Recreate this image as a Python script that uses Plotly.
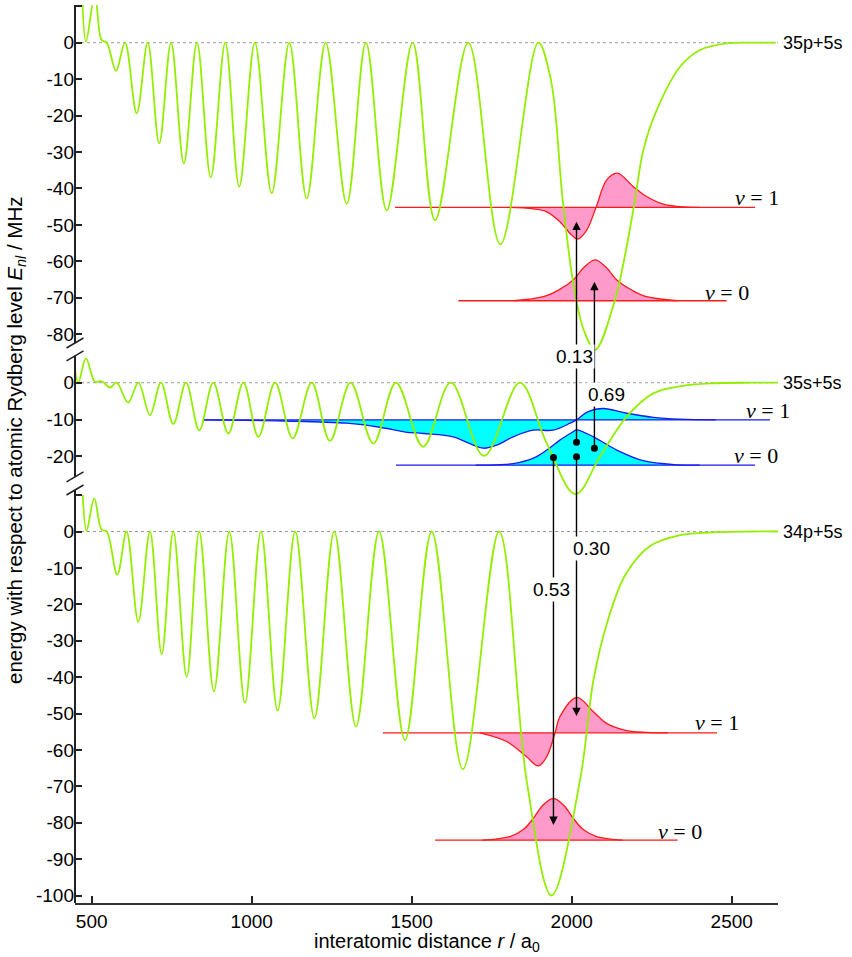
import plotly.graph_objects as go

# ---------------- potential curves: r in a0, energy in MHz ----------------
P35_R = [470, 482, 510, 531, 547, 576, 604, 640.6, 675, 711, 748, 788, 829, 872,
         917.5, 961, 1010, 1062.5, 1117.5, 1172, 1231, 1297, 1357, 1422, 1503,
         1573, 1677, 1777, 1895.6, 1935, 1972, 2005, 2038, 2073, 2135, 2192.6,
         2224, 2265.6, 2338.5, 2401, 2484, 2560, 2638]
P35_E = [14, 0.3, 13, 0.7, 0, -7.7, 0, -19.4, 0, -27.6, 0, -33.1, 0, -36.9,
         0, -39.5, 0, -41.3, 0, -42.7, 0, -44.2, 0, -46.0, 0,
         -48.7, 0, -55.3, 0, -10.2, -43.2, -66.0, -78.9, -84.3, -70.6, -45.9,
         -29.4, -18.5, -6.6, -2.0, -0.2, 0, 0]

S35_R = [445, 458, 482, 510, 531, 557, 578, 614, 646, 682, 716.5, 755, 794.7,
         836, 880, 927, 974, 1021, 1073, 1128, 1187.5, 1244.5, 1309, 1380, 1451,
         1536, 1622, 1726, 1838, 1922, 2012, 2088, 2172, 2255, 2338, 2432, 2560,
         2645]
S35_E = [5.7, 0, 6.6, 0.3, 0.4, -1.3, 0, -5.4, 0, -8.8, 0, -11.2, 0,
         -12.9, 0, -13.8, 0, -14.7, 0, -15.1, 0, -15.8, 0, -16.5, 0,
         -17.4, 0, -19.9, 0, -16.5, -30.3, -20.1, -9.2, -2.9, -1.0, -0.2, 0,
         0]

P34_R = [472, 484, 508, 531, 547, 580, 609, 645.6, 682, 718.7, 755, 797, 836,
         882, 930, 979, 1029, 1081, 1136, 1196, 1258, 1326, 1398, 1479, 1562.5,
         1660, 1773, 1859, 1937, 2026, 2068, 2111, 2167, 2245, 2339, 2450, 2560,
         2645]
P34_E = [10, 0.2, 9.1, 0.5, 0, -11.9, 0, -24.8, 0, -33.7, 0, -39.9, 0,
         -43.9, 0, -47.0, 0, -49.2, 0, -51.3, 0, -53.6, 0, -57.3, 0,
         -65.3, 0, -68.3, -100, -68.3, -40.8, -25.0, -12.0, -4.0, -1.0, -0.2, 0,
         0]

# ---------------- vibrational wave functions ----------------
# 35p+5s
P35_V1_BASE = -45.2
P35_V1_SPAN = [1448, 2573]
P35_V1_R = [1800, 1880, 1922, 1963, 2000, 2018, 2047, 2076, 2109, 2142.5,
            2192.7, 2234, 2286, 2338, 2400]
P35_V1_E = [-45.2, -45.6, -46.4, -49.1, -52.8, -53.9, -51.4, -45.2, -37.7,
            -35.8, -39.5, -42.2, -44.3, -45.0, -45.2]

P35_V0_BASE = -70.8
P35_V0_SPAN = [1645.6, 2484]
P35_V0_R = [1820, 1911, 1960, 2005, 2040, 2073, 2106, 2141, 2190, 2234, 2330]
P35_V0_E = [-70.8, -69.7, -67.8, -65.1, -61.5, -59.6, -61.5, -65.1, -68.0,
            -69.7, -70.8]

# 35s+5s
S35_V1_BASE = -10.1
S35_V1_SPAN = [847, 2620]
S35_V1_R = [850, 1100, 1297, 1401, 1480, 1536, 1630, 1680, 1724, 1770, 1817,
            1880, 1942, 1995, 2015, 2050, 2099, 2172, 2255, 2338, 2450]
S35_V1_E = [-10.1, -10.4, -11.0, -12.1, -13.4, -13.8, -14.7, -16.5, -17.8,
            -16.8, -14.7, -12.9, -12.9, -11.0, -10.1, -7.9, -7.0, -8.3, -9.4,
            -9.9, -10.1]

S35_V0_BASE = -22.4
S35_V0_SPAN = [1451, 2573]
S35_V0_R = [1700, 1765, 1817, 1880, 1922, 1963, 2005, 2015, 2068, 2141, 2224,
            2328, 2400]
S35_V0_E = [-22.4, -22.3, -22.0, -20.5, -18.3, -15.6, -13.3, -12.8, -14.7,
            -18.3, -21.2, -22.3, -22.4]

# 34p+5s
P34_V1_BASE = -55.3
P34_V1_SPAN = [1410, 2454]
P34_V1_R = [1713, 1797, 1859, 1895.6, 1922, 1948, 1963, 2015.6, 2067.7, 2109,
            2172, 2234, 2300]
P34_V1_E = [-55.3, -57.7, -61.9, -64.4, -61.9, -55.3, -50.9, -45.6, -49.5,
            -52.7, -54.7, -55.2, -55.3]

P34_V0_BASE = -84.8
P34_V0_SPAN = [1573, 2331]
P34_V0_R = [1720, 1807, 1850, 1880, 1910, 1942.5, 1975, 2005, 2035, 2078, 2160]
P34_V0_E = [-84.8, -83.8, -81.8, -78.8, -75.2, -73.3, -75.2, -78.8, -81.8,
            -83.8, -84.8]

# ---------------- transitions (Franck-Condon factors) ----------------
# start point on 35s+5s, end point on the target curve
TRANS_R = [2015, 2071, 1943, 2015]
TRANS_START = [-16.2, -17.8, -20.3, -20.1]
TRANS_END = [-49.1, -65.6, -80.6, -50.7]
TRANS_AXIS = ["y", "y", "y3", "y3"]
TRANS_FCF = ["0.13", "0.69", "0.53", "0.30"]
FCF_LABEL_R = [2010, 2110, 1937, 2061]
FCF_LABEL_E = [7.0, -3.3, -15.8, -4.8]
FCF_LABEL_AXIS = ["y2", "y2", "y3", "y3"]

# ---------------- axis ticks ----------------
TOP_TICKS = [10, 0, -10, -20, -30, -40, -50, -60, -70, -80]
MID_TICKS = [0, -10, -20]
BOT_TICKS = [10, 0, -10, -20, -30, -40, -50, -60, -70, -80, -90, -100]
X_TICKS = [500, 1000, 1500, 2000, 2500]

# ---------------- styling / layout constants ----------------
GREEN = "#93EE00"
RED = "#FF1A1A"
PINK = "#FF9BCB"
BLUE = "#1A1AF0"
CYAN = "#00FFFF"
SANS = "Liberation Sans, Arial, Helvetica, sans-serif"
SERIF = "Liberation Serif, DejaVu Serif, serif"

X_RANGE = [447.8, 2644.7]
RANGES = {
    "y": [-236.03, 10.34],
    "y2": [-141.38, 102.64],
    "y3": [-102.06, 144.64],
}


def on_axis(value, src, dst):
    """Express a value of axis `src` in the units of overlaid axis `dst`."""
    a0, a1 = RANGES[src]
    b0, b1 = RANGES[dst]
    return b0 + (value - a0) * (b1 - b0) / (a1 - a0)


def tick_text(vals, blank_top=False):
    out = []
    for i, v in enumerate(vals):
        out.append("" if (blank_top and i == 0) else str(v))
    return out


fig = go.Figure()


def add_wave(span, base, rs, es, yaxis, line_col, fill_col):
    fig.add_trace(go.Scatter(x=span, y=[base, base], yaxis=yaxis, mode="lines",
                             line=dict(color=line_col, width=1.3),
                             hoverinfo="skip", showlegend=False))
    fig.add_trace(go.Scatter(x=rs, y=es, yaxis=yaxis, mode="lines",
                             line=dict(color=line_col, width=1.3,
                                       shape="spline", smoothing=1.0),
                             fill="tonexty", fillcolor=fill_col,
                             hoverinfo="skip", showlegend=False))


add_wave(P35_V1_SPAN, P35_V1_BASE, P35_V1_R, P35_V1_E, "y", RED, PINK)
add_wave(P35_V0_SPAN, P35_V0_BASE, P35_V0_R, P35_V0_E, "y", RED, PINK)
add_wave(S35_V1_SPAN, S35_V1_BASE, S35_V1_R, S35_V1_E, "y2", BLUE, CYAN)
add_wave(S35_V0_SPAN, S35_V0_BASE, S35_V0_R, S35_V0_E, "y2", BLUE, CYAN)
add_wave(P34_V1_SPAN, P34_V1_BASE, P34_V1_R, P34_V1_E, "y3", RED, PINK)
add_wave(P34_V0_SPAN, P34_V0_BASE, P34_V0_R, P34_V0_E, "y3", RED, PINK)

for rs, es, ax in [(P35_R, P35_E, "y"), (S35_R, S35_E, "y2"), (P34_R, P34_E, "y3")]:
    fig.add_trace(go.Scatter(x=rs, y=es, yaxis=ax, mode="lines",
                             line=dict(color=GREEN, width=1.8, shape="spline",
                                       smoothing=1.0),
                             hoverinfo="skip", showlegend=False))

# start points of the transitions
fig.add_trace(go.Scatter(x=TRANS_R, y=TRANS_START, yaxis="y2", mode="markers",
                         marker=dict(color="black", size=7),
                         hoverinfo="skip", showlegend=False))

shapes = []
# dotted zero lines
for ax in ["y", "y2", "y3"]:
    shapes.append(dict(type="line", xref="paper", x0=0, x1=1, yref=ax, y0=0, y1=0,
                       line=dict(color="#9a9a9a", width=1, dash="dot"), layer="below"))

# left axis segments (broken axis)
AXIS_SEGMENTS = [("y", 10.34, -82.4), ("y2", 7.3, -25.6), ("y3", 11.4, -102.06)]
for ax, top, bot in AXIS_SEGMENTS:
    shapes.append(dict(type="line", xref="paper", x0=0, x1=0, yref=ax, y0=bot, y1=top,
                       line=dict(color="#222222", width=2), layer="above"))
for ax, yv in [("y", -82.4), ("y2", 7.3), ("y2", -25.6), ("y3", 11.4)]:
    shapes.append(dict(type="line", xref="paper", xsizemode="pixel", xanchor=0,
                       x0=-8.5, x1=8.5, yref=ax, ysizemode="pixel", yanchor=yv,
                       y0=-5, y1=5, line=dict(color="#222222", width=1.6),
                       layer="above"))

annotations = []
# transition arrows
for r, e0, e1, ax in zip(TRANS_R, TRANS_START, TRANS_END, TRANS_AXIS):
    annotations.append(dict(x=r, y=e1, xref="x", yref=ax, axref="x", ayref=ax,
                            ax=r, ay=on_axis(e0, "y2", ax), text="", showarrow=True,
                            arrowhead=2, arrowsize=1.2, arrowwidth=1.4,
                            arrowcolor="black", standoff=0, startstandoff=0))
for r, e, t, ax in zip(FCF_LABEL_R, FCF_LABEL_E, TRANS_FCF, FCF_LABEL_AXIS):
    annotations.append(dict(x=r, y=e, xref="x", yref=ax, text=t, showarrow=False,
                            bgcolor="white", borderpad=1,
                            xanchor="center", yanchor="middle",
                            font=dict(family=SANS, size=19, color="black")))

# state labels
for ax, t in [("y", "35p+5s"), ("y2", "35s+5s"), ("y3", "34p+5s")]:
    annotations.append(dict(x=1, y=0, xref="paper", yref=ax, text=t, showarrow=False,
                            xanchor="left", yanchor="middle", xshift=3,
                            font=dict(family=SANS, size=18, color="black")))

# vibrational level labels
NU_LABELS = [("y", 2503, -42.6, "1"), ("y", 2409, -68.5, "0"),
             ("y2", 2539, -7.6, "1"), ("y2", 2500, -19.9, "0"),
             ("y3", 2380, -52.6, "1"), ("y3", 2263.5, -82.5, "0")]
for ax, r, e, n in NU_LABELS:
    annotations.append(dict(x=r, y=e, xref="x", yref=ax, text="<i>ν</i> = " + n,
                            showarrow=False, xanchor="left", yanchor="middle",
                            font=dict(family=SERIF, size=22, color="black")))

# axis titles
annotations.append(dict(x=-0.084, y=0.5156, xref="paper", yref="paper",
                        text="energy with respect to atomic Rydberg level "
                             "<i>E<sub>nl</sub></i> / MHz",
                        textangle=-90, showarrow=False,
                        xanchor="center", yanchor="middle",
                        font=dict(family=SANS, size=20.5, color="black")))
annotations.append(dict(x=0.5, y=-0.0445, xref="paper", yref="paper",
                        text="interatomic distance <i>r</i> / a<sub>0</sub>",
                        showarrow=False, xanchor="center", yanchor="middle",
                        font=dict(family=SANS, size=20, color="black")))

yaxis_common = dict(ticks="inside", ticklen=7, tickwidth=1.5, tickcolor="#222222",
                    showline=False, showgrid=False, zeroline=False,
                    tickfont=dict(family=SANS, size=19, color="black"),
                    domain=[0, 1])

fig.update_layout(
    width=852, height=957,
    margin=dict(l=75, r=74, t=5, b=54),
    paper_bgcolor="white", plot_bgcolor="white",
    showlegend=False,
    xaxis=dict(range=X_RANGE, tickvals=X_TICKS, ticks="inside", ticklen=7,
               tickwidth=1.5, tickcolor="#222222", showline=True, linewidth=2,
               linecolor="#333333", showgrid=False, zeroline=False,
               tickfont=dict(family=SANS, size=19, color="black")),
    yaxis=dict(range=RANGES["y"], tickvals=TOP_TICKS,
               ticktext=tick_text(TOP_TICKS, True), **yaxis_common),
    yaxis2=dict(range=RANGES["y2"], tickvals=MID_TICKS, ticktext=tick_text(MID_TICKS),
                overlaying="y", anchor="x", side="left", **yaxis_common),
    yaxis3=dict(range=RANGES["y3"], tickvals=BOT_TICKS,
                ticktext=tick_text(BOT_TICKS, True),
                overlaying="y", anchor="x", side="left", **yaxis_common),
    shapes=shapes,
    annotations=annotations,
)

fig.write_html("out.html")
